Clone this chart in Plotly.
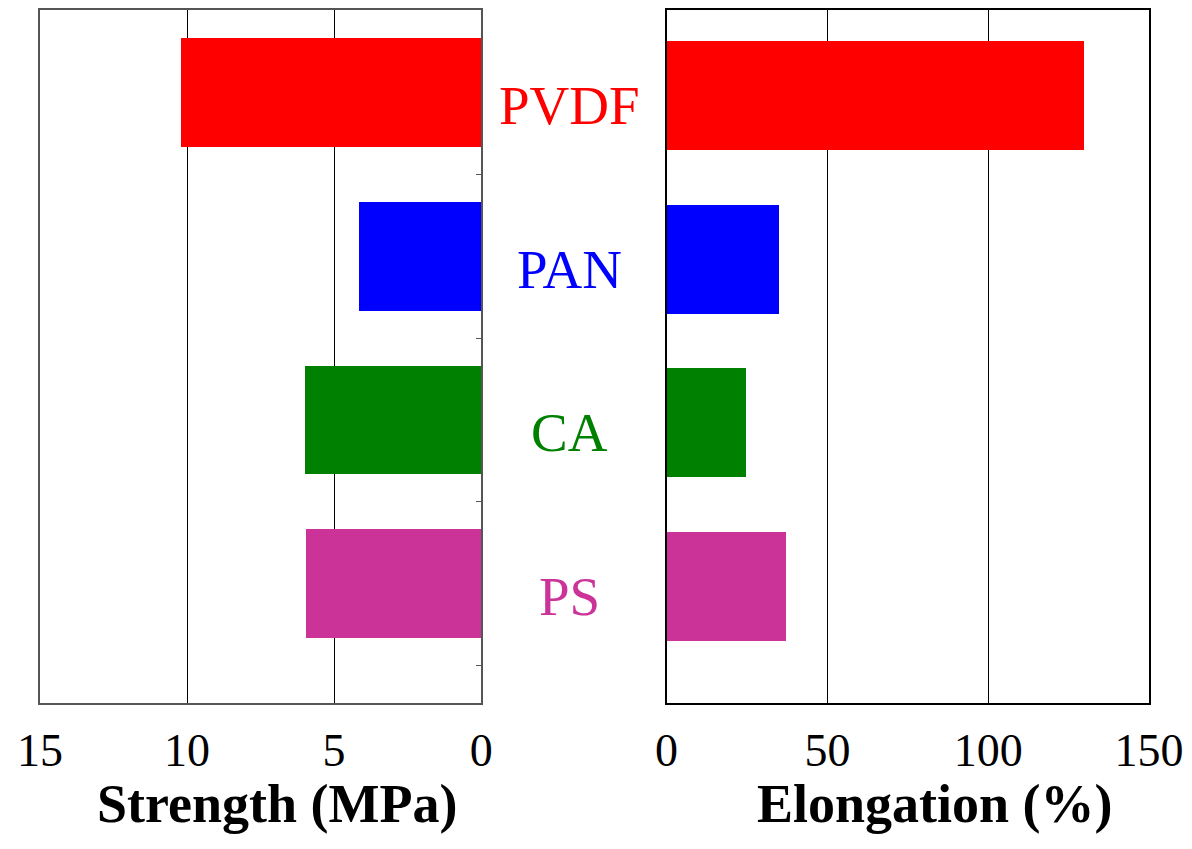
import plotly.graph_objects as go

# Membrane materials and their mechanical properties
materials = ["PVDF", "PAN", "CA", "PS"]
strength_mpa = [10.2, 4.15, 6.0, 5.95]
elongation_pct = [129.7, 34.8, 24.6, 37.0]
colors = ["#FF0000", "#0000FF", "#008000", "#CC3399"]

strength_ticks = [0, 5, 10, 15]
elongation_ticks = [0, 50, 100, 150]

positions = list(range(len(materials)))
boundaries = [p + 0.5 for p in positions]

SERIF = "Liberation Serif, Times New Roman, serif"

fig = go.Figure()

fig.add_trace(go.Bar(
    x=strength_mpa, y=positions, orientation="h", width=0.665,
    marker=dict(color=colors, line=dict(width=0)),
    xaxis="x", yaxis="y", showlegend=False,
))
fig.add_trace(go.Bar(
    x=elongation_pct, y=positions, orientation="h", width=0.665,
    marker=dict(color=colors, line=dict(width=0)),
    xaxis="x2", yaxis="y2", showlegend=False,
))

tick_font = dict(family=SERIF, size=46, color="black")

fig.update_layout(
    width=1192, height=849,
    margin=dict(l=40, r=36, t=8, b=146),
    paper_bgcolor="white", plot_bgcolor="white",
    bargap=0,
    xaxis=dict(
        domain=[0, 0.3978], range=[15, 0], tickvals=strength_ticks,
        showgrid=True, gridcolor="black", gridwidth=1,
        showline=True, linecolor="#555555", linewidth=1.5, mirror=True,
        ticks="", tickfont=tick_font, ticklabelstandoff=6, zeroline=False,
    ),
    yaxis=dict(
        anchor="x", side="right", range=[3.73, -0.506],
        tickvals=boundaries, ticks="inside", ticklen=5, tickcolor="#555555",
        showticklabels=False, showgrid=False, zeroline=False,
        showline=True, linecolor="#555555", linewidth=1.5, mirror=True,
    ),
    xaxis2=dict(
        domain=[0.5650, 1], range=[0, 150], tickvals=elongation_ticks,
        showgrid=True, gridcolor="black", gridwidth=1,
        showline=True, linecolor="black", linewidth=1.5, mirror=True,
        ticks="", tickfont=tick_font, ticklabelstandoff=6, zeroline=False,
        anchor="y2",
    ),
    yaxis2=dict(
        anchor="x2", range=[3.713, -0.524],
        showticklabels=False, ticks="", showgrid=False, zeroline=False,
        showline=True, linecolor="black", linewidth=1.5, mirror=True,
    ),
)

# Material names between the two panels
for pos, name, col in zip(positions, materials, colors):
    fig.add_annotation(
        x=0.4776, xref="paper", y=pos, yref="y", yshift=-13,
        text=name, showarrow=False,
        font=dict(family=SERIF, size=55, color=col),
        xanchor="center", yanchor="middle",
    )

# Axis titles
for xpos, title in [(0.2133, "Strength (MPa)"), (0.8073, "Elongation (%)")]:
    fig.add_annotation(
        x=xpos, xref="paper", y=-0.146, yref="paper",
        text="<b>" + title + "</b>", showarrow=False,
        font=dict(family=SERIF, size=54, color="black"),
        xanchor="center", yanchor="middle",
    )

fig.write_html("out.html")
